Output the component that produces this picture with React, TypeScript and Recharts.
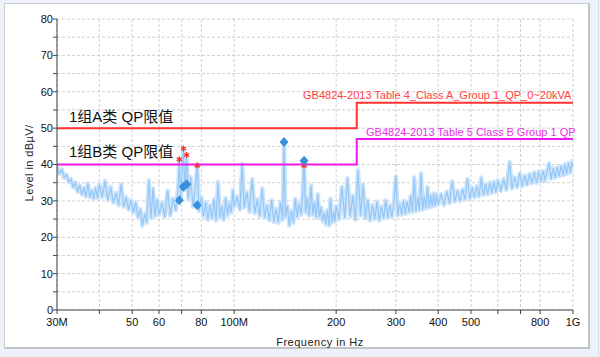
import React from 'react';
import { ComposedChart, Line, Scatter, XAxis, YAxis, CartesianGrid } from 'recharts';

// Measured spectrum: [frequency MHz, level dBµV/m]
const spectrum: [number, number][] = [
  [30, 39.5], [30.5, 37.5], [31, 38.6], [31.5, 36.4], [32, 37.2], [32.5, 35.2], [33, 36.0], [33.5, 33.8],
  [34, 35.0], [34.5, 32.6], [35, 34.2], [35.5, 31.8], [36, 33.5], [36.5, 31.2], [37, 34.8], [37.5, 31.0],
  [38, 32.8], [38.5, 30.6], [39, 33.6], [39.5, 30.8], [40, 34.5],
  [40.8, 31.0], [41.6, 35.5], [42.4, 30.2], [43.2, 33.8], [44.0, 29.5], [44.8, 32.2], [45.6, 28.8], [46.4, 34.6],
  [47.2, 28.4], [48.0, 31.0], [48.8, 27.6], [49.6, 30.2], [50.4, 26.8], [51.2, 29.6], [52.0, 25.4], [52.8, 27.8],
  [53.6, 23.2], [54.4, 26.4], [55.2, 24.0], [56.0, 35.6], [56.8, 25.2], [57.6, 33.5], [58.4, 25.8], [59.2, 30.4],
  [60, 26.2], [61.2, 29.5], [62.4, 25.6], [63.6, 32.8], [64.8, 26.0], [66, 30.6], [67.2, 27.4], [68.4, 34.0],
  [68.9, 41.4], [69.6, 31.0], [70.8, 44.4], [71.6, 33.0], [72.4, 42.6], [73.2, 30.5], [74.4, 36.5], [75.6, 28.4],
  [76.8, 33.5], [77.8, 39.7], [78.8, 27.2], [80, 31.0], [81.2, 25.8], [82.4, 29.6], [83.6, 24.8], [84.8, 28.8],
  [86, 25.2], [87.2, 30.4], [88.4, 24.6], [89.6, 35.2], [90.8, 25.4], [92, 28.6], [93.2, 24.8], [94.4, 30.8],
  [95.6, 26.0], [96.8, 29.4], [98, 26.8], [99.2, 33.0],
  [100, 28.4], [102, 31.2], [104, 27.6], [105.6, 40.2], [107, 28.2], [109, 32.4], [111, 27.0], [113, 36.0],
  [115, 26.6], [117, 30.4], [119, 25.8], [121, 33.4], [123, 25.4], [125, 28.8], [127, 24.6], [129, 30.2],
  [131, 24.2], [133, 27.8], [135, 24.0], [137, 29.6], [139, 24.8], [140.3, 46.2], [141.6, 25.6], [143.5, 28.6],
  [145.5, 23.2], [147.5, 27.2], [149.5, 24.0], [151.5, 30.5], [153.5, 25.6], [155.5, 29.2], [157.5, 26.2], [159.2, 31.6],
  [160.8, 41.0], [162.4, 26.8], [164.5, 30.8], [166.5, 26.0], [168.5, 34.2], [170.5, 26.2], [172.5, 29.6], [174.5, 25.4],
  [176.5, 31.8], [178.5, 25.6], [180.5, 28.2], [182.5, 24.4], [184.5, 26.8], [186.5, 23.6], [188.5, 27.4], [190.5, 23.2],
  [192.5, 30.6], [194.5, 24.0], [196.5, 27.0], [198.5, 24.4],
  [200, 28.6], [204, 25.0], [208, 33.8], [212, 25.4], [216, 36.2], [220, 25.8], [224, 31.4], [228, 24.8],
  [232, 38.4], [236, 26.0], [240, 34.4], [244, 25.2], [248, 30.2], [252, 24.6], [256, 28.8], [260, 25.0],
  [264, 29.8], [268, 24.6], [272, 28.4], [276, 25.2], [280, 30.2], [284, 25.4], [288, 28.8], [292, 25.6],
  [296, 29.4], [300, 36.8], [304, 26.0], [308, 29.2], [312, 26.2], [316, 30.0], [320, 26.4], [324, 29.8],
  [328, 26.8], [332, 31.4], [336, 27.0], [340, 36.4], [344, 27.2], [348, 31.0], [352, 27.4], [356, 37.6],
  [360, 27.6], [364, 31.2], [368, 28.0], [372, 33.8], [376, 28.2], [380, 31.6], [384, 28.4], [388, 32.0],
  [392, 28.6], [396, 31.8],
  [400, 29.0], [408, 31.8], [416, 28.8], [424, 32.6], [432, 29.4], [440, 35.4], [448, 29.8], [456, 32.8],
  [464, 30.0], [472, 33.2], [480, 30.4], [488, 36.0], [496, 30.6], [504, 33.6], [512, 31.0], [520, 34.0],
  [528, 31.2], [536, 36.4], [544, 31.6], [552, 34.6], [560, 31.8], [568, 35.0], [576, 32.2], [584, 35.2],
  [592, 32.4], [600, 35.6],
  [612, 32.8], [624, 36.0], [636, 33.0], [650, 40.6], [660, 33.4], [672, 36.4], [684, 33.8], [696, 37.6],
  [708, 34.0], [720, 37.0], [732, 34.4], [744, 37.4], [756, 34.8], [768, 37.8], [780, 35.0], [792, 38.0],
  [804, 35.4], [816, 38.2], [828, 35.6], [840, 38.6], [850, 40.4], [862, 36.0], [874, 39.0], [886, 36.4],
  [898, 39.2], [910, 36.8], [922, 39.6], [934, 37.0], [946, 40.0], [958, 37.4], [970, 40.4], [982, 37.8],
  [994, 40.8], [1000, 39.0],
];

const classALimit: [number, number][] = [[30, 50], [230, 50], [230, 57], [1000, 57]];
const classBLimit: [number, number][] = [[30, 40], [230, 40], [230, 47], [1000, 47]];
const finalQP: [number, number][] = [[68.9, 30.2], [70.8, 33.9], [72.4, 34.6], [77.8, 28.8], [140.3, 46.2], [160.8, 41.0]];
const peaks: [number, number][] = [[68.9, 41.4], [70.8, 44.4], [72.4, 42.6], [77.8, 39.7], [160.8, 39.7]];

const freqTicks = [30, 40, 50, 60, 70, 80, 100, 200, 300, 400, 500, 600, 700, 800, 1000];
const freqTickLabels: Record<number, string> = {
  30: '30M', 50: '50', 60: '60', 80: '80', 100: '100M', 200: '200', 300: '300', 400: '400', 500: '500', 800: '800', 1000: '1G',
};
const levelTicks = [0, 5, 10, 15, 20, 25, 30, 35, 40, 45, 50, 55, 60, 65, 70, 75, 80];

const limitALabel = 'GB4824-2013 Table 4_Class A_Group 1_QP_0~20kVA';
const limitBLabel = 'GB4824-2013 Table 5 Class B Group 1 QP';
const groupALabel = '1组A类 QP限值';
const groupBLabel = '1组B类 QP限值';
const xTitle = 'Frequency in Hz';
const yTitle = 'Level in dBµV/';

const toRows = (arr: [number, number][]) => arr.map(([f, v]) => ({ f, v }));

const FONT = '"Liberation Sans", Arial, "Noto Sans CJK SC", sans-serif';

const Diamond = (props: any) => {
  const { cx, cy } = props;
  if (cx == null || cy == null) return null;
  return <path d={`M${cx},${cy - 5}L${cx + 4.5},${cy}L${cx},${cy + 5}L${cx - 4.5},${cy}Z`} fill="#3a8fdb" />;
};

const Star = (props: any) => {
  const { cx, cy } = props;
  if (cx == null || cy == null) return null;
  const r = 3;
  return (
    <g stroke="#ff2a2a" strokeWidth={1.3}>
      <line x1={cx} y1={cy - r} x2={cx} y2={cy + r} />
      <line x1={cx - r * 0.87} y1={cy - r * 0.5} x2={cx + r * 0.87} y2={cy + r * 0.5} />
      <line x1={cx - r * 0.87} y1={cy + r * 0.5} x2={cx + r * 0.87} y2={cy - r * 0.5} />
    </g>
  );
};

export default function App() {
  const spec = toRows(spectrum);
  return (
    <div style={{ position: 'fixed', left: 0, top: 0, width: 600, height: 357, background: '#edf1f9', overflow: 'hidden' }}>
      <div style={{ position: 'absolute', left: 4, top: 3, width: 586, height: 346, boxSizing: 'border-box', background: '#fff', borderTop: '1px solid #cfcfcf', borderLeft: '1px solid #cfcfcf', borderRight: '2px solid #c4c4c4', borderBottom: '2px solid #c4c4c4' }} />
      <div style={{ position: 'absolute', left: 598, top: 0, width: 1, height: 357, background: '#d6dbe4' }} />
      <div style={{ position: 'absolute', left: 0, top: 0 }}>
        <ComposedChart width={600} height={357} margin={{ top: 19, right: 27, bottom: 17, left: 17 }}>
          <CartesianGrid stroke="#d0d0d0" strokeDasharray="3 2" />
          <XAxis
            dataKey="f"
            type="number"
            scale="log"
            domain={[30, 1000]}
            ticks={freqTicks}
            tickFormatter={(v: number) => freqTickLabels[v] ?? ''}
            height={30}
            tickSize={4}
            tickMargin={4}
            stroke="#444"
            tick={{ fill: '#111', fontSize: 11, fontFamily: FONT }}
            allowDataOverflow
          />
          <YAxis
            type="number"
            domain={[0, 80]}
            ticks={levelTicks}
            tickFormatter={(v: number) => (v % 10 === 0 ? String(v) : '')}
            width={40}
            tickSize={4}
            tickMargin={0}
            stroke="#444"
            tick={{ fill: '#111', fontSize: 11, fontFamily: FONT }}
            interval={0}
          />
          <Line data={spec} dataKey="v" stroke="#cde4fb" strokeWidth={4.5} strokeLinejoin="round" dot={false} isAnimationActive={false} />
          <Line data={spec} dataKey="v" stroke="#93c7f7" strokeWidth={1.2} dot={false} isAnimationActive={false} />
          <Line data={toRows(classALimit)} dataKey="v" stroke="#ff3030" strokeWidth={2} dot={false} isAnimationActive={false} />
          <Line data={toRows(classBLimit)} dataKey="v" stroke="#ee18ee" strokeWidth={2} dot={false} isAnimationActive={false} />
          <Scatter data={toRows(peaks)} dataKey="v" shape={<Star />} isAnimationActive={false} />
          <Scatter data={toRows(finalQP)} dataKey="v" shape={<Diamond />} isAnimationActive={false} />
        </ComposedChart>
      </div>
      <svg width={600} height={357} style={{ position: 'absolute', left: 0, top: 0, pointerEvents: 'none' }}>
        <text x={69} y={122} fontSize={15} fontFamily={FONT} fill="#111">{groupALabel}</text>
        <text x={69} y={157} fontSize={15} fontFamily={FONT} fill="#111">{groupBLabel}</text>
        <text x={303} y={99} fontSize={11} fontFamily={FONT} fill="#ff4040">{limitALabel}</text>
        <text x={366} y={136} fontSize={11} fontFamily={FONT} fill="#e830e8">{limitBLabel}</text>
        <text x={320} y={346} fontSize={11} fontFamily={FONT} fill="#222" textAnchor="middle" letterSpacing={0.5}>{xTitle}</text>
        <text transform="translate(33,163) rotate(-90)" fontSize={11} fontFamily={FONT} fill="#222" textAnchor="middle" letterSpacing={0.4}>{yTitle}</text>
      </svg>
    </div>
  );
}
